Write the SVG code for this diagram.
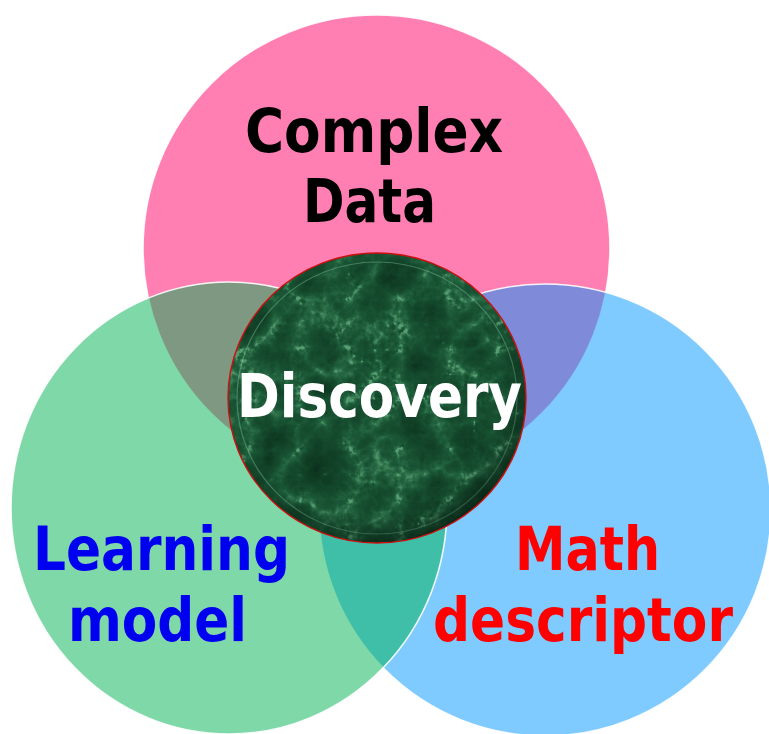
<svg xmlns="http://www.w3.org/2000/svg" width="769" height="734" viewBox="0 0 769 734">
  <style>
    .set { fill-opacity: 0.5; stroke: #ffffff; stroke-width: 1.6; stroke-opacity: 0.9; }
    .label { font-family: "DejaVu Sans Condensed", "DejaVu Sans", sans-serif; font-weight: bold; font-size: 60px; }
  </style>
  <defs>
    <!-- green marble texture for the centre disc -->
    <filter id="marble" x="0" y="0" width="1" height="1" color-interpolation-filters="sRGB">
      <feTurbulence type="turbulence" baseFrequency="0.02" numOctaves="5" seed="11" result="veins"/>
      <feTurbulence type="fractalNoise" baseFrequency="0.2" numOctaves="2" seed="3" result="grain"/>
      <feComposite in="veins" in2="grain" operator="arithmetic" k1="0" k2="1.7" k3="0.25" k4="-0.06" result="mix"/>
      <feColorMatrix in="mix" type="matrix" values="1 0 0 0 0  1 0 0 0 0  1 0 0 0 0  0 0 0 0 1" result="gray"/>
      <feComponentTransfer in="gray" result="tint">
        <feFuncR type="table" tableValues="0.34 0.17 0.11 0.09 0.08 0.07 0.06 0.06 0.05 0.05"/>
        <feFuncG type="table" tableValues="0.62 0.43 0.35 0.31 0.28 0.26 0.24 0.22 0.20 0.18"/>
        <feFuncB type="table" tableValues="0.45 0.28 0.22 0.19 0.17 0.16 0.14 0.13 0.12 0.11"/>
      </feComponentTransfer>
      <feComposite in="tint" in2="SourceGraphic" operator="in"/>
    </filter>
    <radialGradient id="discShade" cx="0.45" cy="0.42" r="0.6">
      <stop offset="0.8" stop-color="#000000" stop-opacity="0"/>
      <stop offset="0.97" stop-color="#000000" stop-opacity="0.35"/>
      <stop offset="1" stop-color="#000000" stop-opacity="0.6"/>
    </radialGradient>
  </defs>

  <rect width="769" height="734" fill="#ffffff"/>

  <g id="complex-data">
    <circle class="set" cx="376.5" cy="248.5" r="233.5" fill="#ff0066"/>
    <text class="label" x="245" y="152" textLength="258" lengthAdjust="spacingAndGlyphs" fill="#000000">Complex</text>
    <text class="label" x="303" y="222" textLength="133" lengthAdjust="spacingAndGlyphs" fill="#000000">Data</text>
  </g>

  <g id="math-descriptor">
    <circle class="set" cx="545" cy="510" r="226" fill="#0095ff"/>
    <text class="label" x="515" y="570" textLength="145" lengthAdjust="spacingAndGlyphs" fill="#ff0000">Math</text>
    <text class="label" x="433" y="641" textLength="300" lengthAdjust="spacingAndGlyphs" fill="#ff0000">descriptor</text>
  </g>

  <g id="learning-model">
    <ellipse class="set" cx="229" cy="508" rx="218" ry="226" fill="#00b151"/>
    <text class="label" x="33" y="570" textLength="257" lengthAdjust="spacingAndGlyphs" fill="#0000f0">Learning</text>
    <text class="label" x="68" y="641" textLength="179" lengthAdjust="spacingAndGlyphs" fill="#0000f0">model</text>
  </g>

  <g id="discovery">
    <ellipse cx="377" cy="398" rx="149" ry="145" fill="#1f5a36"/>
    <ellipse cx="377" cy="398" rx="149" ry="145" fill="#000" filter="url(#marble)"/>
    <ellipse cx="377" cy="398" rx="140" ry="136" fill="none" stroke="#9fd9b4" stroke-width="1.2" stroke-opacity="0.35"/>
    <ellipse cx="377" cy="398" rx="149" ry="145" fill="url(#discShade)"/>
    <ellipse cx="377" cy="398" rx="149" ry="145" fill="none" stroke="#cc1010" stroke-width="1.4"/>
    <text class="label" x="237" y="417" font-size="58" textLength="285" lengthAdjust="spacingAndGlyphs" fill="#ffffff">Discovery</text>
  </g>
</svg>
